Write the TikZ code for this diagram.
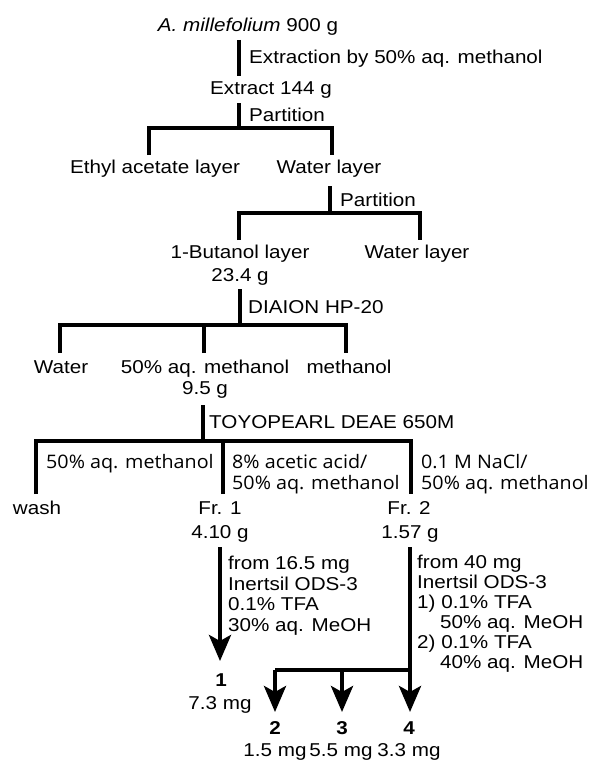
\documentclass[tikz,border=0pt]{standalone}
\usepackage{fontspec}
\setmainfont{Liberation Sans}[FakeStretch=1.11]
\newfontfamily\elfont{Open Sans}[FakeStretch=1.06]
\usetikzlibrary{arrows.meta}
\begin{document}
\begin{tikzpicture}[x=1pt,y=-1pt,
  txt/.style={inner sep=0pt,text height=13.3pt,text depth=0pt,font=\fontsize{18.6}{20.5}\selectfont},
  ltxt/.style={txt,anchor=west},
  eltxt/.style={ltxt,font=\fontsize{18.6}{20.5}\selectfont\elfont},
  bar/.style={line width=4.3pt,line join=miter,line cap=butt},
  arr/.style={bar,-{Stealth[length=26pt,width=22pt,inset=6pt]}}]
\useasboundingbox (0,0) rectangle (592,760);
% nodes
\node[txt] (title) at (248,25) {\textit{A. millefolium} 900 g};
\node[ltxt] (lab1) at (249,57) {Extraction by 50\% aq. methanol};
\node[txt] (extract) at (271,88) {Extract 144 g};
\node[ltxt] (lab2) at (249,115) {Partition};
\node[txt] (ethyl) at (155,167) {Ethyl acetate layer};
\node[txt] (water1) at (329,167) {Water layer};
\node[ltxt] (lab3) at (340,200) {Partition};
\node[txt] (butanol) at (240,252) {1-Butanol layer};
\node[txt] (butmass) at (240,275) {23.4 g};
\node[txt] (water2) at (417,252) {Water layer};
\node[ltxt] (lab4) at (248,307) {DIAION HP-20};
\node[txt] (water3) at (61,367) {Water};
\node[txt] (aqme) at (205,367) {50\% aq. methanol};
\node[txt] (meoh) at (349,367) {methanol};
\node[txt] (aqmass) at (205,388) {9.5 g};
\node[ltxt] (lab5) at (209,422) {TOYOPEARL DEAE 650M};
\node[eltxt] (e1) at (46,462) {50\% aq. methanol};
\node[eltxt] (e2a) at (232,462) {8\% acetic acid/};
\node[eltxt] (e2b) at (232,483) {50\% aq. methanol};
\node[eltxt] (e3a) at (421,462) {0.1 M NaCl/};
\node[eltxt] (e3b) at (421,483) {50\% aq. methanol};
\node[txt] (wash) at (37,508) {wash};
\node[txt] (fr1) at (220,508) {Fr. 1};
\node[txt] (fr1m) at (220,532) {4.10 g};
\node[txt] (fr2) at (409,508) {Fr. 2};
\node[txt] (fr2m) at (410,532) {1.57 g};
\node[ltxt] (c1a) at (228,563) {from 16.5 mg};
\node[ltxt] (c1b) at (228,584) {Inertsil ODS-3};
\node[ltxt] (c1c) at (228,604) {0.1\% TFA};
\node[ltxt] (c1d) at (228,625) {30\% aq. MeOH};
\node[ltxt] (c2a) at (417,562) {from 40 mg};
\node[ltxt] (c2b) at (417,582) {Inertsil ODS-3};
\node[ltxt] (c2c) at (417,602) {1) 0.1\% TFA};
\node[ltxt] (c2d) at (440,622) {50\% aq. MeOH};
\node[ltxt] (c2e) at (417,642) {2) 0.1\% TFA};
\node[ltxt] (c2f) at (440,662) {40\% aq. MeOH};
\node[txt] (cpd1) at (221,680) {\textbf{1}};
\node[txt] (cpd1m) at (220,703) {7.3 mg};
\node[txt] (cpd2) at (275,728) {\textbf{2}};
\node[txt] (cpd3) at (342,728) {\textbf{3}};
\node[txt] (cpd4) at (409,728) {\textbf{4}};
\node[txt] (cpd2m) at (275,750) {1.5 mg};
\node[txt] (cpd3m) at (341,750) {5.5 mg};
\node[txt] (cpd4m) at (409,750) {3.3 mg};
% coordinates
\coordinate (a1) at (239,40);  \coordinate (a2) at (239,76);
\coordinate (b1) at (239,103); \coordinate (b2) at (239,128);
\coordinate (b3) at (149,155); \coordinate (b4) at (332,155);
\coordinate (c1) at (330,186); \coordinate (c2) at (330,213);
\coordinate (c3) at (239,240); \coordinate (c4) at (420,240);
\coordinate (d1) at (240,289); \coordinate (d2) at (240,325);
\coordinate (d3) at (60,353);  \coordinate (d4) at (346,353);
\coordinate (d5) at (204,353);
\coordinate (f1) at (203,405); \coordinate (f2) at (203,441);
\coordinate (f3) at (36,494);  \coordinate (f4) at (411,494);
\coordinate (f5) at (223,494);
\coordinate (g1) at (220,547); \coordinate (g2) at (220,661);
\coordinate (h1) at (410,547); \coordinate (h2) at (410,670);
\coordinate (h3) at (275,670);
\coordinate (t2) at (275,712); \coordinate (t3) at (342,712);
\coordinate (t4) at (410,712);
% connectors
\draw[bar] (a1) -- (a2);
\draw[bar] (b1) -- (b2);
\draw[bar] (b3) |- (b2) -| (b4);
\draw[bar] (c1) -- (c2);
\draw[bar] (c3) |- (c2) -| (c4);
\draw[bar] (d1) -- (d2);
\draw[bar] (d3) |- (d2) -| (d4);
\draw[bar] (d5) -- (d5 |- d2);
\draw[bar] (f1) -- (f2);
\draw[bar] (f3) |- (f2) -| (f4);
\draw[bar] (f5) -- (f5 |- f2);
\draw[arr] (g1) -- (g2);
\draw[arr] (h1) -- (t4);
\draw[bar] (h2) -- (h3);
\draw[arr] (h3) -- (t2);
\draw[arr] (t3 |- h2) -- (t3);
\end{tikzpicture}
\end{document}
